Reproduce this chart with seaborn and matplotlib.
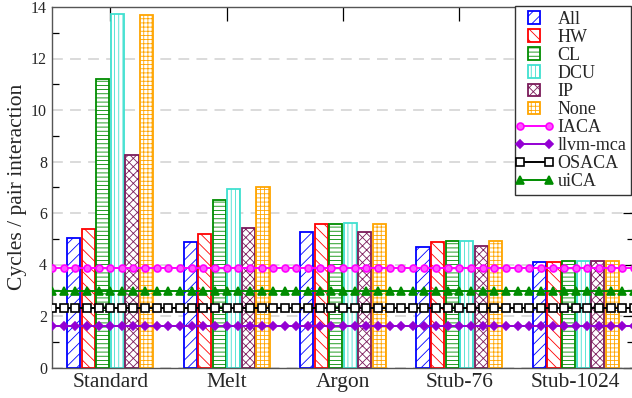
import numpy as np
import pandas as pd
import matplotlib
matplotlib.use("Agg")
import matplotlib.pyplot as plt
from matplotlib.patches import Patch, Rectangle
from matplotlib.lines import Line2D
from matplotlib.legend_handler import HandlerPatch
import seaborn as sns

# ---------------- data ----------------
benchmarks = ["Standard", "Melt", "Argon", "Stub-76", "Stub-1024"]
variants = ["All", "HW", "CL", "DCU", "IP", "None"]
val_all = [5.03, 4.88, 5.27, 4.68, 4.10]
val_hw = [5.37, 5.19, 5.59, 4.89, 4.10]
val_cl = [11.22, 6.50, 5.59, 4.93, 4.15]
val_dcu = [13.73, 6.92, 5.62, 4.93, 4.13]
val_ip = [8.25, 5.41, 5.25, 4.73, 4.15]
val_none = [13.68, 7.00, 5.59, 4.93, 4.13]

models = ["IACA", "llvm-mca", "OSACA", "uiCA"]
model_values = [3.86, 1.60, 2.32, 2.98]

yticks = [0, 2, 4, 6, 8, 10, 12, 14]

# ---------------- styles ----------------
bar_colors = ["#0000ff", "#ff0000", "#008c00", "#40e0d0", "#7b1b5b", "#ffa500"]
bar_hatches = ["///", "\\\\\\", "----", "||||", "xxxx", "++++"]
line_colors = ["#ff00ff", "#9400d3", "#000000", "#008c00"]
line_markers = ["o", "D", "s", "^"]
line_mfc = ["#ff55ff", "#9400d3", "white", "#008c00"]
line_ms = [5, 4.5, 5.5, 5.5]

sns.set_theme(style="white")
plt.rcParams["font.family"] = ["Liberation Serif", "DejaVu Serif"]
plt.rcParams["hatch.linewidth"] = 0.6

values = [val_all, val_hw, val_cl, val_dcu, val_ip, val_none]
rows = []
for v, vals in zip(variants, values):
    for b, y in zip(benchmarks, vals):
        rows.append({"bench": b, "variant": v, "cycles": y})
df = pd.DataFrame(rows)

fig = plt.figure(figsize=(6.32, 3.98), dpi=100)
ax = fig.add_axes([52 / 632, 1 - 367.5 / 398, (634 - 52) / 632, (367.5 - 7) / 398])

sns.barplot(data=df, x="bench", y="cycles", hue="variant", order=benchmarks,
            hue_order=variants, palette=bar_colors, fill=False, width=0.75,
            gap=0.1, linewidth=1.3, legend=False, errorbar=None, ax=ax)

for cont, h, c in zip(ax.containers, bar_hatches, bar_colors):
    for p in cont.patches:
        p.set_hatch(h)
        p.set_edgecolor(c)
        p.set_facecolor("white")
        p.set_zorder(2)

xs = np.arange(-0.5, 4.5 + 1e-9, 0.1)
for name, val, c, m, mfc, ms in zip(models, model_values, line_colors,
                                     line_markers, line_mfc, line_ms):
    ax.plot(xs, [val] * len(xs), color=c, marker=m, mfc=mfc, mec=c, ms=ms,
            mew=1.2, lw=1.4, zorder=5, clip_on=True)

ax.set_xlim(-0.5, 4.5)
ax.set_ylim(0, 14)
ax.set_yticks(yticks)
ax.set_yticks(np.arange(1, 14, 2), minor=True)
ax.set_xticks(range(len(benchmarks)))
ax.set_xticklabels(benchmarks, fontsize=15.5)
ax.tick_params(axis="y", which="major", labelsize=11.5)
ax.set_xlabel("")
ax.set_ylabel("Cycles / pair interaction", fontsize=15.5, labelpad=3)

ax.tick_params(which="both", direction="in", top=True, right=True,
               color="black", width=0.9)
ax.tick_params(which="major", length=8)
ax.tick_params(which="minor", length=5, left=True, right=True)
ax.tick_params(axis="x", which="major", length=10, pad=4)

ax.yaxis.grid(True, which="major", linestyle=(0, (6, 4)), color="#d8d8d8", lw=1.3)
ax.set_axisbelow(True)
for s in ax.spines.values():
    s.set_color("#555555")
    s.set_linewidth(1.0)


def square_patch(legend, orig_handle, xdescent, ydescent, width, height, fontsize):
    s = 12.5 * 72 / 100.0  # points
    return Rectangle((-xdescent + (width - s) / 2, -ydescent + (height - s) / 2), s, s)


handles = []
for v, c, h in zip(variants, bar_colors, bar_hatches):
    handles.append(Patch(facecolor="white", edgecolor=c, hatch=h, lw=1.3, label=v))
for name, c, m, mfc, ms in zip(models, line_colors, line_markers, line_mfc, line_ms):
    handles.append(Line2D([0, 1], [0, 1], color=c, marker=m, mfc=mfc, mec=c,
                          ms=ms, mew=1.2, lw=1.4, label=name))

leg = ax.legend(handles=handles, loc="upper right",
                bbox_to_anchor=(631 / 632, 1 - 6 / 398), bbox_transform=fig.transFigure,
                borderaxespad=0, fontsize=13, labelspacing=0.05, handlelength=1.6,
                handleheight=0.8, handletextpad=0.5, borderpad=0.25, frameon=True,
                fancybox=False, framealpha=1, edgecolor="#333333",
                handler_map={Patch: HandlerPatch(patch_func=square_patch)})
leg.get_frame().set_linewidth(1.0)
for lh in leg.legend_handles:
    if isinstance(lh, Line2D):
        lh.set_markevery([0, -1])

fig.savefig("out.png", dpi=100)
